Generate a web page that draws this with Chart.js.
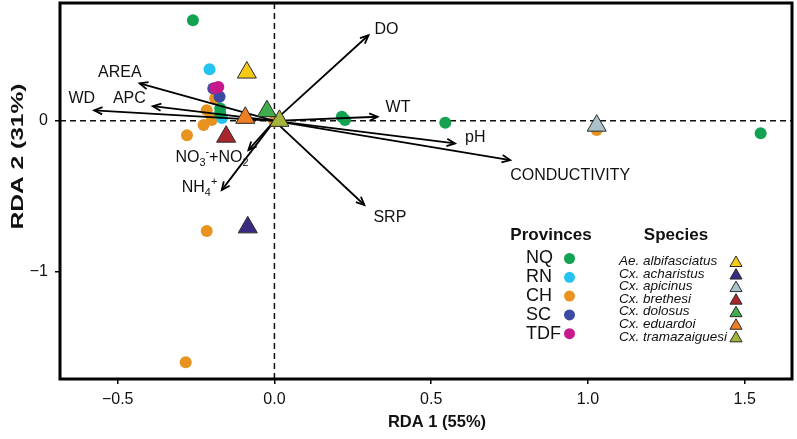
<!DOCTYPE html>
<html><head><meta charset="utf-8">
<script src="https://cdn.jsdelivr.net/npm/chart.js@4.4.0/dist/chart.umd.min.js"></script>
<style>html,body{margin:0;padding:0;background:#fff}#wrap{width:797px;height:439px;position:relative}</style>
</head><body><div id="wrap"><canvas id="c"></canvas></div>
<script>
// ---------- data ----------
const xTicks = [-0.5, 0, 0.5, 1, 1.5];
const yTicks = [-1, 0];
const provinces = ['NQ', 'RN', 'CH', 'SC', 'TDF'];
const nqX = [-0.26, -0.173, -0.173, 0.215, 0.225, 0.545, 1.551];
const nqY = [0.667, 0.082, 0.051, 0.027, 0.005, -0.013, -0.083];
const rnX = [-0.207, -0.167];
const rnY = [0.342, 0.018];
const chX = [-0.189, -0.216, -0.2, -0.226, -0.279, -0.216, -0.283, 1.028, 0.0];
const chY = [0.15, 0.071, 0.005, -0.028, -0.095, -0.73, -1.60, -0.06, -0.005];
const scX = [-0.195, -0.175];
const scY = [0.215, 0.159];
const tdfX = [-0.179, -0.189];
const tdfY = [0.225, 0.217];
const species = ['Ae. albifasciatus', 'Cx. acharistus', 'Cx. apicinus', 'Cx. brethesi', 'Cx. dolosus', 'Cx. eduardoi', 'Cx. tramazaiguesi'];
const speciesX = [-0.088, -0.085, 1.028, -0.154, -0.024, -0.093, 0.016];
const speciesY = [0.32, -0.706, -0.032, -0.105, 0.064, 0.02, 0.0];
const vectorNames = ['DO', 'AREA', 'APC', 'WD', 'WT', 'pH', 'CONDUCTIVITY', 'SRP', 'NO3+NO2', 'NH4+'];
const vectorX = [0.30, -0.43, -0.388, -0.575, 0.329, 0.576, 0.752, 0.287, -0.083, -0.168];
const vectorY = [0.567, 0.248, 0.097, 0.07, 0.027, -0.15, -0.26, -0.558, -0.194, -0.459];

// ---------- styles ----------
const FONT = "'Liberation Sans', Arial, sans-serif";
const provColors = ['#13a152', '#25c3ef', '#e8921f', '#3b4aa2', '#c8198c'];
const provOrder = [7, 9, 10, 6, 5]; // draw order (higher drawn first)
const speciesColors = ['#f6c915', '#3c2a80', '#a9c2c9', '#a8262c', '#3fae49', '#ef7d22', '#a4b43a'];
const labelPlace = {
  'DO': {dx: 6, dy: -6, align: 'left'},
  'AREA': {dx: 2, dy: -11, align: 'right'},
  'APC': {dx: -7, dy: -7.5, align: 'right'},
  'WD': {dx: 1, dy: -11.5, align: 'right'},
  'WT': {dx: 8, dy: -9, align: 'left'},
  'pH': {dx: 10, dy: -6, align: 'left'},
  'CONDUCTIVITY': {dx: 0, dy: 15.5, align: 'left'},
  'SRP': {dx: 9, dy: 13, align: 'left'},
  'NO3+NO2': {dx: -73, dy: 7, align: 'left', rich: [['NO', 0], ['3', 1], ['-', -1], ['+NO', 0], ['2', 1], ['-', -1]]},
  'NH4+': {dx: -40, dy: -3, align: 'left', rich: [['NH', 0], ['4', 1], ['+', -1]]}
};

const zip = (xs, ys) => xs.map((x, i) => ({x: x, y: ys[i]}));
const provData = [[nqX, nqY], [rnX, rnY], [chX, chY], [scX, scY], [tdfX, tdfY]];

const datasets = [];
provinces.forEach((p, i) => {
  datasets.push({
    label: p, data: zip(provData[i][0], provData[i][1]),
    pointRadius: 6, pointHoverRadius: 6, pointBorderWidth: 0,
    backgroundColor: provColors[i], borderColor: provColors[i],
    order: provOrder[i], showLine: false
  });
});
vectorNames.forEach((v, i) => {
  datasets.push({
    label: v, data: [{x: 0, y: 0}, {x: vectorX[i], y: vectorY[i]}],
    showLine: true, borderColor: '#000', borderWidth: 1.8,
    pointRadius: 0, pointHoverRadius: 0, order: 3
  });
});
species.forEach((s, i) => {
  datasets.push({
    label: s, data: [{x: speciesX[i], y: speciesY[i]}],
    pointStyle: 'triangle', pointRadius: 11, pointHoverRadius: 11,
    backgroundColor: speciesColors[i], borderColor: '#2a2a2a', pointBorderWidth: 1,
    order: 1, showLine: false
  });
});

function drawRich(ctx, parts, x, y, size) {
  let cx = x;
  parts.forEach(([t, mode]) => {
    const fs = mode === 0 ? size : size * 0.68;
    ctx.font = fs + 'px ' + FONT;
    const off = mode === 1 ? size * 0.38 : (mode === -1 ? -size * 0.33 : 0);
    ctx.fillText(t, cx, y + off);
    cx += ctx.measureText(t).width;
  });
}

const rdaPlugin = {
  id: 'rda',
  beforeDatasetsDraw(chart) {
    const {ctx, chartArea: a, scales: {x, y}} = chart;
    ctx.save();
    ctx.beginPath(); ctx.rect(a.left, a.top, a.width, a.height); ctx.clip();
    ctx.setLineDash([6, 4]); ctx.lineWidth = 1.5; ctx.strokeStyle = '#111';
    const x0 = x.getPixelForValue(0), y0 = y.getPixelForValue(0);
    ctx.beginPath(); ctx.moveTo(x0, a.top); ctx.lineTo(x0, a.bottom); ctx.stroke();
    ctx.beginPath(); ctx.moveTo(a.left, y0); ctx.lineTo(a.right, y0); ctx.stroke();
    ctx.restore();
  },
  afterDatasetsDraw(chart) {
    const {ctx, scales: {x, y}} = chart;
    ctx.save();
    const ox = x.getPixelForValue(0), oy = y.getPixelForValue(0);
    vectorNames.forEach((v, i) => {
      const px = x.getPixelForValue(vectorX[i]), py = y.getPixelForValue(vectorY[i]);
      const ang = Math.atan2(py - oy, px - ox);
      const L = 9, w = 0.42;
      ctx.strokeStyle = '#000'; ctx.lineWidth = 1.8; ctx.setLineDash([]);
      ctx.beginPath();
      ctx.moveTo(px - L * Math.cos(ang - w), py - L * Math.sin(ang - w));
      ctx.lineTo(px, py);
      ctx.lineTo(px - L * Math.cos(ang + w), py - L * Math.sin(ang + w));
      ctx.stroke();
      const lp = labelPlace[v];
      ctx.fillStyle = '#111'; ctx.textBaseline = 'middle';
      if (lp.rich) {
        ctx.textAlign = 'left';
        drawRich(ctx, lp.rich, px + lp.dx, py + lp.dy, 16);
      } else {
        ctx.font = '16px ' + FONT;
        ctx.textAlign = lp.align;
        ctx.fillText(v, px + lp.dx, py + lp.dy);
      }
    });
    ctx.restore();
  },
  afterDraw(chart) {
    const {ctx, chartArea: a} = chart;
    ctx.save();
    ctx.strokeStyle = '#000'; ctx.lineWidth = 3; ctx.setLineDash([]);
    ctx.strokeRect(a.left, a.top, a.width, a.height);
    // axis titles
    ctx.fillStyle = '#111';
    ctx.font = 'bold 16.5px ' + FONT;
    ctx.textAlign = 'center'; ctx.textBaseline = 'middle';
    ctx.fillText('RDA 1 (55%)', (a.left + a.right) / 2 + 11, 422.5);
    ctx.save();
    ctx.font = 'bold 17px ' + FONT;
    const yt = 'RDA 2 (31%)';
    const sx = 146 / ctx.measureText(yt).width;
    ctx.translate(18, 156.5); ctx.rotate(-Math.PI / 2); ctx.scale(sx, 1);
    ctx.fillText(yt, 0, 0);
    ctx.restore();
    // legend
    ctx.font = 'bold 17px ' + FONT;
    ctx.fillText('Provinces', 551, 235);
    ctx.fillText('Species', 676, 235);
    ctx.textAlign = 'left';
    ctx.font = '18px ' + FONT;
    provinces.forEach((p, i) => {
      const yy = 258.5 + i * 18.8;
      ctx.fillStyle = '#111';
      ctx.fillText(p, 526, yy);
      ctx.fillStyle = provColors[i];
      ctx.beginPath(); ctx.arc(569.5, yy, 5.5, 0, Math.PI * 2); ctx.fill();
    });
    ctx.font = 'italic 13.5px ' + FONT;
    species.forEach((s, i) => {
      const yy = 261.5 + i * 12.55;
      ctx.fillStyle = '#111';
      ctx.fillText(s, 619, yy);
      ctx.fillStyle = speciesColors[i]; ctx.strokeStyle = '#2a2a2a'; ctx.lineWidth = 1;
      Chart.helpers.drawPoint(ctx, {pointStyle: 'triangle', radius: 7, rotation: 0, borderWidth: 1}, 736, yy + 1.5);
    });
    ctx.restore();
  }
};

const minus = s => s.replace('-', '\u2212');
const noPad = s => { s.paddingLeft = 0; s.paddingRight = 0; s.paddingTop = 0; s.paddingBottom = 0; };

new Chart(document.getElementById('c'), {
  type: 'scatter',
  data: {datasets: datasets},
  options: {
    responsive: true, maintainAspectRatio: false, animation: false,
    devicePixelRatio: 1,
    layout: {autoPadding: false, padding: {top: 3, right: 5, left: 0, bottom: 0}},
    plugins: {legend: {display: false}, tooltip: {enabled: false}},
    events: [],
    scales: {
      x: {
        type: 'linear', min: -0.684, max: 1.651,
        afterBuildTicks: s => { s.ticks = xTicks.map(v => ({value: v})); },
        afterFit: s => { s.height = 60; noPad(s); },
        ticks: {
          autoSkip: false, maxRotation: 0, padding: 6, color: '#111',
          font: {family: FONT, size: 16},
          callback: v => minus(Number(v).toFixed(1))
        },
        grid: {display: true, drawOnChartArea: false, drawTicks: true, tickLength: 5, color: '#000', lineWidth: 1.5},
        border: {display: false}
      },
      y: {
        type: 'linear', min: -1.711, max: 0.781,
        afterBuildTicks: s => { s.ticks = yTicks.map(v => ({value: v})); },
        afterFit: s => { s.width = 60; noPad(s); },
        ticks: {
          autoSkip: false, padding: 7, color: '#111',
          font: {family: FONT, size: 16},
          callback: v => minus(String(Math.round(v)))
        },
        grid: {display: true, drawOnChartArea: false, drawTicks: true, tickLength: 5, color: '#000', lineWidth: 1.5},
        border: {display: false}
      }
    }
  },
  plugins: [rdaPlugin]
});
</script>
</body></html>
